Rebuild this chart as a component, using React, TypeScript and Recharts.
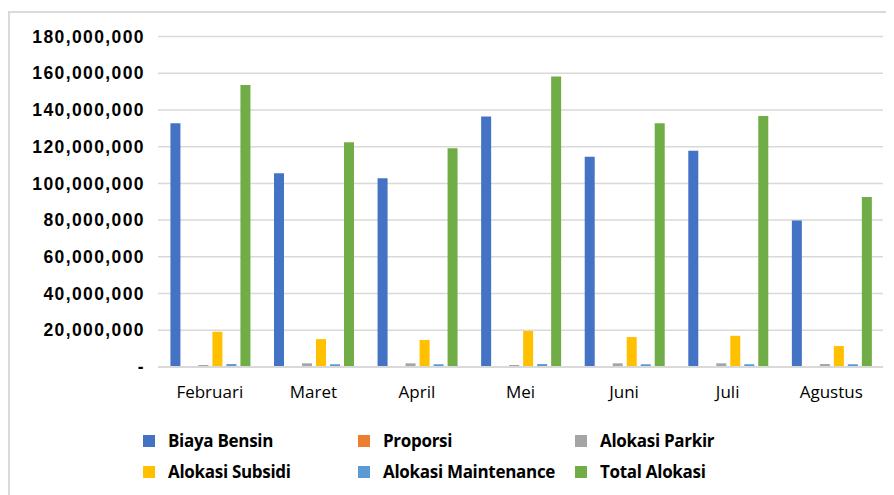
import React from "react";
import { BarChart, Bar, XAxis, YAxis, CartesianGrid } from "recharts";

const months = ["Februari", "Maret", "April", "Mei", "Juni", "Juli", "Agustus"];
const biayaBensin = [132800000, 105500000, 102800000, 136400000, 114500000, 117800000, 79800000];
const proporsi = [0.86, 0.87, 0.87, 0.86, 0.87, 0.86, 0.87];
const alokasiParkir = [1100000, 2000000, 2000000, 1100000, 2000000, 2000000, 1600000];
const alokasiSubsidi = [19200000, 15200000, 14700000, 19600000, 16300000, 17000000, 11400000];
const alokasiMaintenance = [1600000, 1500000, 1500000, 1600000, 1500000, 1500000, 1500000];
const totalAlokasi = [153600000, 122400000, 119100000, 158200000, 132800000, 136700000, 92600000];
const yTicks = [0, 20000000, 40000000, 60000000, 80000000, 100000000, 120000000, 140000000, 160000000, 180000000];

const series = [
  { key: "bensin", name: "Biaya Bensin", color: "#4472C4", values: biayaBensin },
  { key: "proporsi", name: "Proporsi", color: "#ED7D31", values: proporsi },
  { key: "parkir", name: "Alokasi Parkir", color: "#A5A5A5", values: alokasiParkir },
  { key: "subsidi", name: "Alokasi Subsidi", color: "#FFC000", values: alokasiSubsidi },
  { key: "maintenance", name: "Alokasi Maintenance", color: "#5B9BD5", values: alokasiMaintenance },
  { key: "total", name: "Total Alokasi", color: "#70AD47", values: totalAlokasi },
];

const data = months.map((m, i) => {
  const row: any = { month: m };
  series.forEach((s) => (row[s.key] = s.values[i]));
  return row;
});

// legend is laid out as 3 columns x 2 rows like the original
const legendCols = [135, 350, 567];
const legendRows = [421, 452];

export default function App() {
  return (
    <div style={{ position: "relative", width: 886, height: 487 }}>
      <div
        style={{
          position: "absolute",
          left: 0,
          top: 3,
          width: 886,
          height: 484,
          borderTop: "2px solid #d9d9d9",
          borderLeft: "2px solid #d9d9d9",
          boxSizing: "border-box",
        }}
      />
      <div style={{ position: "absolute", left: 0, top: 0 }}>
        <BarChart
          width={886}
          height={487}
          data={data}
          margin={{ top: 28.5, right: 11, bottom: 88, left: 0 }}
          barCategoryGap="12%"
          barGap={4}
        >
          <CartesianGrid vertical={false} stroke="#d9d9d9" strokeWidth={1.5} />
          <XAxis
            dataKey="month"
            height={40}
            axisLine={{ stroke: "#d9d9d9", strokeWidth: 2 }}
            tickLine={false}
            tickSize={0}
            tickMargin={19}
            tick={{ fill: "#000", fontSize: 17, fontFamily: "Open Sans" }}
          />
          <YAxis
            width={150}
            domain={[0, 180000000]}
            ticks={yTicks}
            axisLine={false}
            tickLine={false}
            tickSize={0}
            tickMargin={13}
            tickFormatter={(v: number) => (v === 0 ? "-" : v.toLocaleString("en-US"))}
            tick={{ fill: "#000", fontSize: 17.5, fontWeight: 700, fontFamily: "Liberation Sans", letterSpacing: 1.4 }}
          />
          {series.map((s) => (
            <Bar key={s.key} dataKey={s.key} name={s.name} fill={s.color} isAnimationActive={false} />
          ))}
        </BarChart>
      </div>
      {series.map((s, i) => (
        <div
          key={s.key}
          style={{
            position: "absolute",
            left: legendCols[i % 3],
            top: legendRows[Math.floor(i / 3)],
            display: "flex",
            alignItems: "center",
            fontFamily: "Open Sans",
            fontWeight: 700,
            fontSize: 17,
            letterSpacing: -0.3,
            color: "#000",
            whiteSpace: "nowrap",
          }}
        >
          <span style={{ width: 12, height: 12, background: s.color, marginRight: 13, display: "inline-block" }} />
          {s.name}
        </div>
      ))}
    </div>
  );
}
